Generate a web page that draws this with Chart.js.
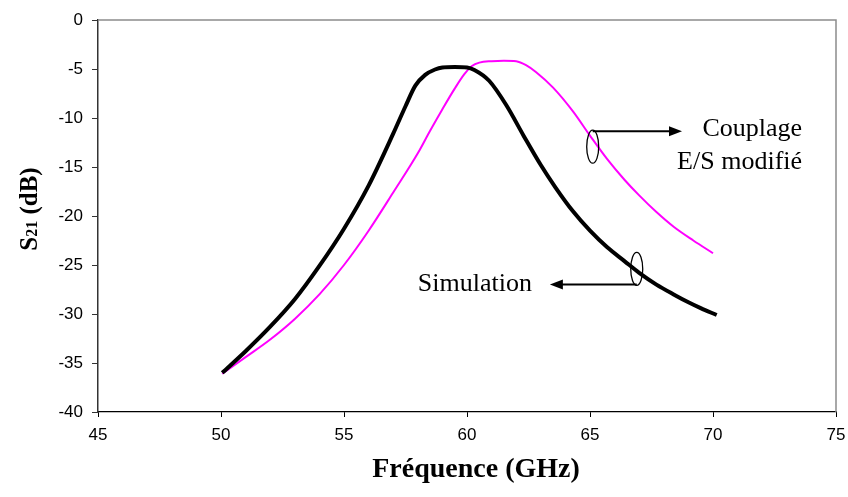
<!DOCTYPE html>
<html>
<head>
<meta charset="utf-8">
<script src="https://cdn.jsdelivr.net/npm/chart.js@4"></script>
<style>
  body { margin: 0; background: #fff; }
  canvas { display: block; }
</style>
</head>
<body>
<canvas id="s21Chart" width="848" height="497"></canvas>
<script>
// S21 (dB) against frequency: simulation vs modified I/O coupling

// Simulation (black)
const simFreq = [50.05, 51.0, 52.0, 53.0, 54.0, 55.0, 56.0, 57.0, 57.5, 57.9, 58.3, 58.7, 59.0,
  59.5, 60.0, 60.3, 60.9, 61.6, 62.3, 63.0, 63.6, 64.3, 65.0, 65.7, 66.4, 67.0, 67.7, 68.4, 69.0, 69.5, 70.15];
const simDb = [-36.0, -33.8, -31.3, -28.5, -25.1, -21.3, -16.9, -11.6, -8.8, -6.7, -5.6, -5.05, -4.85,
  -4.8, -4.85, -5.1, -6.2, -8.7, -11.8, -14.8, -17.1, -19.5, -21.5, -23.2, -24.6, -25.8, -27.0, -28.0, -28.8, -29.4, -30.1];

// Couplage E/S modifie (magenta)
const modFreq = [50.05, 51.0, 52.0, 53.0, 54.0, 55.0, 56.0, 57.0, 58.0, 58.5, 59.0, 59.5, 59.9, 60.2,
  60.5, 61.0, 61.5, 62.0, 62.4, 62.8, 63.5, 64.3, 65.0, 65.7, 66.4, 67.0, 67.7, 68.4, 69.2, 70.0];
const modDb = [-36.1, -34.4, -32.6, -30.5, -28.0, -25.0, -21.5, -17.6, -13.6, -11.3, -9.1, -7.0, -5.5, -4.7,
  -4.35, -4.2, -4.15, -4.2, -4.6, -5.3, -6.9, -9.3, -11.8, -14.2, -16.3, -17.9, -19.6, -21.1, -22.5, -23.8];

const xTicks = [45, 50, 55, 60, 65, 70, 75];
const yTicks = [-40, -35, -30, -25, -20, -15, -10, -5, 0];

const xTitle = 'Fréquence (GHz)';
const yTitle = ['S', '21', ' (dB)'];

// callouts: ellipse on a curve, arrow, and a label (positions in data units)
const callouts = [
  { cx: 65.11, cy: -12.93, side: 'top', tip: 68.74, lines: ['Couplage', 'E/S modifié'], textX: 73.62, textY: [-11.84, -15.2] },
  { cx: 66.9, cy: -25.4, side: 'bottom', tip: 63.37, lines: ['Simulation'], textX: 62.64, textY: [-27.7] }
];

const serif = '"Liberation Serif", "Times New Roman", serif';
const sans = '"Liberation Sans", Arial, sans-serif';

function toPoints(xs, ys) {
  return xs.map((x, i) => ({ x: x, y: ys[i] }));
}

// frame, axis titles and callouts
const decorPlugin = {
  id: 'decor',
  afterDraw(chart) {
    const { ctx, chartArea: a, scales: { x, y } } = chart;
    ctx.save();

    // top and right border
    ctx.strokeStyle = '#8c8c8c';
    ctx.lineWidth = 1.5;
    ctx.beginPath();
    ctx.moveTo(a.left, a.top);
    ctx.lineTo(a.right, a.top);
    ctx.lineTo(a.right, a.bottom);
    ctx.stroke();

    // x title
    ctx.fillStyle = '#000';
    ctx.font = 'bold 28px ' + serif;
    ctx.textAlign = 'center';
    ctx.textBaseline = 'alphabetic';
    ctx.fillText(xTitle, 476, 477);

    // y title with subscript
    ctx.save();
    ctx.translate(37, 209);
    ctx.rotate(-Math.PI / 2);
    const big = 'bold 25px ' + serif;
    const small = 'bold 16px ' + serif;
    ctx.font = big;
    const w0 = ctx.measureText(yTitle[0]).width;
    const w2 = ctx.measureText(yTitle[2]).width;
    ctx.font = small;
    const w1 = ctx.measureText(yTitle[1]).width;
    let px = -(w0 + w1 + w2) / 2;
    ctx.textAlign = 'left';
    ctx.font = big;
    ctx.fillText(yTitle[0], px, 0);
    px += w0;
    ctx.font = small;
    ctx.fillText(yTitle[1], px, 0);
    px += w1;
    ctx.font = big;
    ctx.fillText(yTitle[2], px, 0);
    ctx.restore();

    // callouts
    callouts.forEach(c => {
      const ex = x.getPixelForValue(c.cx);
      const ey = y.getPixelForValue(c.cy);
      const rx = 6, ry = 16.5;
      ctx.strokeStyle = '#000';
      ctx.lineWidth = 1.3;
      ctx.beginPath();
      ctx.ellipse(ex, ey, rx, ry, 0, 0, Math.PI * 2);
      ctx.stroke();

      const ly = c.side === 'top' ? ey - ry + 1 : ey + ry - 1;
      const tx = x.getPixelForValue(c.tip);
      const dir = tx > ex ? 1 : -1;
      ctx.lineWidth = 2;
      ctx.beginPath();
      ctx.moveTo(ex, ly);
      ctx.lineTo(tx - dir * 10, ly);
      ctx.stroke();
      ctx.fillStyle = '#000';
      ctx.beginPath();
      ctx.moveTo(tx, ly);
      ctx.lineTo(tx - dir * 13, ly - 5);
      ctx.lineTo(tx - dir * 13, ly + 5);
      ctx.closePath();
      ctx.fill();

      ctx.font = '26px ' + serif;
      ctx.textAlign = 'right';
      ctx.textBaseline = 'alphabetic';
      c.lines.forEach((t, i) => {
        ctx.fillText(t, x.getPixelForValue(c.textX), y.getPixelForValue(c.textY[i]));
      });
    });

    ctx.restore();
  }
};

new Chart(document.getElementById('s21Chart'), {
  type: 'scatter',
  data: {
    datasets: [
      {
        label: 'Simulation',
        data: toPoints(simFreq, simDb),
        showLine: true,
        borderColor: '#000000',
        borderWidth: 4,
        pointRadius: 0,
        cubicInterpolationMode: 'monotone',
        fill: false
      },
      {
        label: 'Couplage E/S modifié',
        data: toPoints(modFreq, modDb),
        showLine: true,
        borderColor: '#FF00FF',
        borderWidth: 2,
        pointRadius: 0,
        cubicInterpolationMode: 'monotone',
        fill: false
      }
    ]
  },
  options: {
    responsive: false,
    animation: false,
    layout: { padding: { top: 20, right: 12, left: 0, bottom: 0 } },
    plugins: { legend: { display: false }, tooltip: { enabled: false } },
    scales: {
      x: {
        type: 'linear',
        min: 45,
        max: 75,
        afterBuildTicks: s => { s.ticks = xTicks.map(v => ({ value: v })); },
        afterFit: s => { s.height = 85; s.paddingLeft = 0; s.paddingRight = 0; },
        border: { color: '#000', width: 1.2 },
        grid: { drawOnChartArea: false, drawTicks: true, tickLength: 5, color: '#000' },
        ticks: { color: '#000', font: { family: sans, size: 17 }, padding: 8, maxRotation: 0 }
      },
      y: {
        type: 'linear',
        min: -40,
        max: 0,
        afterBuildTicks: s => { s.ticks = yTicks.map(v => ({ value: v })); },
        afterFit: s => { s.width = 98; s.paddingTop = 0; s.paddingBottom = 0; },
        border: { color: '#333', width: 1.5 },
        grid: { drawOnChartArea: false, drawTicks: true, tickLength: 6, color: '#333' },
        ticks: { color: '#000', font: { family: sans, size: 17 }, padding: 9 }
      }
    }
  },
  plugins: [decorPlugin]
});
</script>
</body>
</html>
